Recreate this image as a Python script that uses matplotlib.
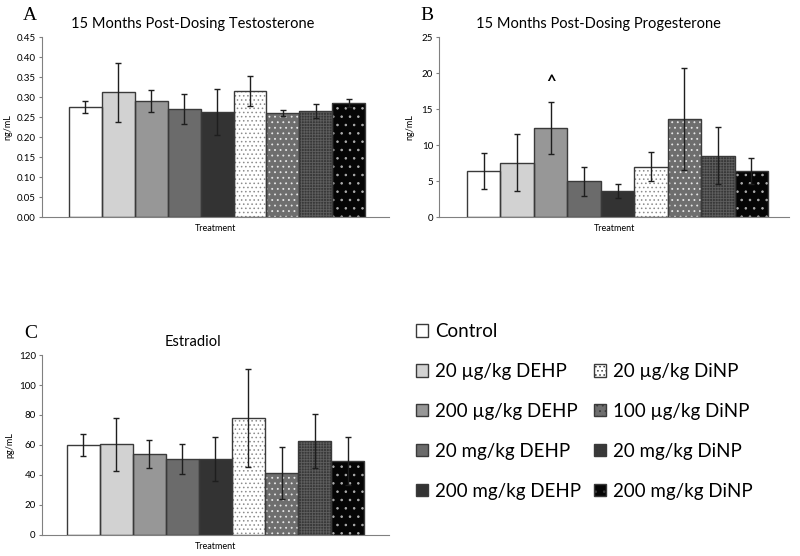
import matplotlib
matplotlib.use("Agg")
import matplotlib.pyplot as plt
import numpy as np
from matplotlib.patches import Patch

plt.rcParams["font.family"] = ["Lato", "DejaVu Sans"]
plt.rcParams["hatch.linewidth"] = 0.6

groups = [
    "Control",
    "20 µg/kg DEHP",
    "200 µg/kg DEHP",
    "20 mg/kg DEHP",
    "200 mg/kg DEHP",
    "20 µg/kg DiNP",
    "100 µg/kg DiNP",
    "20 mg/kg DiNP",
    "200 mg/kg DiNP",
]

testo_mean = [0.275, 0.312, 0.290, 0.270, 0.262, 0.315, 0.260, 0.265, 0.285]
testo_err = [0.0145, 0.0735, 0.0285, 0.0365, 0.057, 0.0385, 0.0075, 0.017, 0.010]

prog_mean = [6.4, 7.55, 12.4, 4.95, 3.6, 7.0, 13.6, 8.5, 6.4]
prog_err = [2.53, 3.92, 3.61, 2.03, 0.97, 2.0, 7.03, 3.96, 1.8]

estr_mean = [60.0, 60.5, 54.2, 50.7, 50.7, 78.0, 41.3, 62.9, 49.1]
estr_err = [7.6, 17.6, 9.35, 9.75, 14.65, 32.6, 17.45, 18.0, 16.0]

# bar styles: face, hatch, hatch colour
faces = ["#ffffff", "#d2d2d2", "#979797", "#6b6b6b", "#333333",
         "#ffffff", "#6e6e6e", "#383838", "#050505"]
hatches = [None, None, None, None, None, "....", "...", "++++++", ".."]
hatch_cols = ["#404040"] * 5 + ["#8c8c8c", "#e6e6e6", "#5e5e5e", "#b0b0b0"]
EDGE = "#3a3a3a"


def draw_panel(ax, means, errs, yticks, fmt, xlim):
    x = np.arange(len(means))
    for i in range(len(means)):
        ax.bar(x[i], means[i], width=1.0, color=faces[i], hatch=hatches[i],
               edgecolor=hatch_cols[i], linewidth=0, zorder=2)
        ax.bar(x[i], means[i], width=1.0, facecolor="none",
               edgecolor=EDGE, linewidth=1.0, zorder=3)
    ax.errorbar(x, means, yerr=errs, fmt="none", ecolor="#1e1e1e",
                elinewidth=1.0, capsize=2.5, capthick=1.0, zorder=4)
    ax.set_xlim(*xlim)
    ax.set_ylim(yticks[0], yticks[-1])
    ax.set_yticks(yticks)
    ax.set_yticklabels([fmt.format(t) for t in yticks], fontsize=7)
    ax.set_xticks([])
    for s in ["top", "right"]:
        ax.spines[s].set_visible(False)
    ax.spines["left"].set_color("#808080")
    ax.spines["bottom"].set_color("#808080")
    ax.tick_params(axis="y", length=2.5, width=0.8, color="#808080", pad=2)
    ax.set_xlabel("Treatment", fontsize=6.5, labelpad=5)


fig = plt.figure(figsize=(8, 5.56), dpi=100)

axA = fig.add_axes([0.0525, 0.6097, 0.434, 0.3237])
draw_panel(axA, testo_mean, testo_err, np.arange(0, 0.451, 0.05), "{:.2f}", (-1.32, 9.23))
axA.set_ylabel("ng/mL", fontsize=6.5, labelpad=3)
axA.text(0.435, 1.07, "15 Months Post-Dosing Testosterone", transform=axA.transAxes,
         ha="center", va="center", fontsize=10.5)
fig.text(30 / 800, 1 - 15 / 556, "A", family=["Liberation Serif"], fontsize=14,
         ha="center", va="center")

axB = fig.add_axes([0.549, 0.6097, 0.4375, 0.3237])
draw_panel(axB, prog_mean, prog_err, np.arange(0, 26, 5), "{:.0f}", (-1.33, 9.13))
axB.set_ylabel("ng/mL", fontsize=6.5, labelpad=5)
axB.text(0.456, 1.07, "15 Months Post-Dosing Progesterone", transform=axB.transAxes,
         ha="center", va="center", fontsize=10.5)
axB.text(2, 17.6, "^", ha="center", va="bottom", fontsize=12, fontweight="bold")
fig.text(427 / 800, 1 - 15 / 556, "B", family=["Liberation Serif"], fontsize=14,
         ha="center", va="center")

axC = fig.add_axes([0.0525, 0.0378, 0.434, 0.3237])
draw_panel(axC, estr_mean, estr_err, np.arange(0, 121, 20), "{:.0f}", (-1.25, 9.26))
axC.set_ylabel("pg/mL", fontsize=6.5, labelpad=3)
axC.text(0.435, 1.07, "Estradiol", transform=axC.transAxes,
         ha="center", va="center", fontsize=10.5)
fig.text(31 / 800, 1 - 333 / 556, "C", family=["Liberation Serif"], fontsize=14,
         ha="center", va="center")

# legend: left column DEHP groups, right column DiNP groups
handles = []
labels = []
order = [0, 1, 2, 3, 4, None, 5, 6, 7, 8]
for k in order:
    if k is None:
        handles.append(Patch(facecolor="none", edgecolor="none"))
        labels.append("")
    else:
        handles.append(Patch(facecolor=faces[k], hatch=hatches[k], edgecolor=EDGE,
                             linewidth=1.0))
        labels.append(groups[k])
fig.legend(handles, labels, ncol=2, loc="upper left",
           bbox_to_anchor=(416 / 800, 1 - 323 / 556), frameon=False,
           fontsize=13.5, handlelength=0.65, handleheight=0.65, handletextpad=0.35,
           labelspacing=1.22, columnspacing=0.7, borderpad=0, borderaxespad=0)

fig.savefig("out.png", dpi=100)
